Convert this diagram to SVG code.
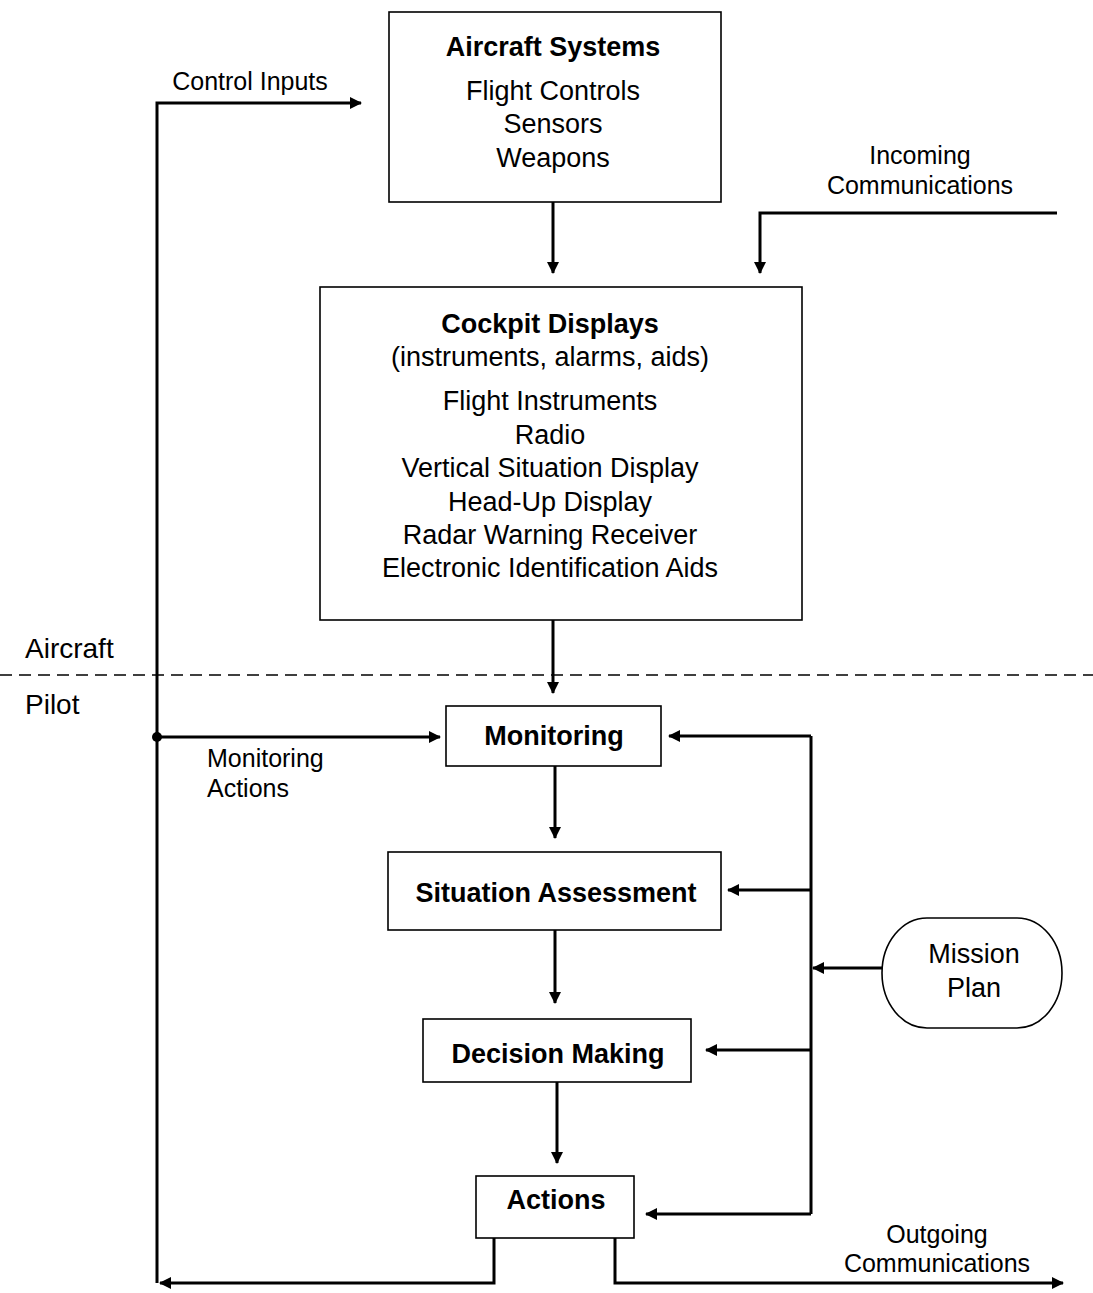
<svg xmlns="http://www.w3.org/2000/svg" width="1093" height="1293" viewBox="0 0 1093 1293">
<defs>
<marker id="ah" viewBox="0 0 12 12" refX="11" refY="6" markerWidth="12" markerHeight="12" markerUnits="userSpaceOnUse" orient="auto">
<path d="M0,0 L12,6 L0,12 Z" fill="#000"/>
</marker>
<style>
text{font-family:"Liberation Sans",Arial,sans-serif;fill:#000;text-anchor:middle}
.t{font-size:27px}
.b{font-size:27px;font-weight:bold}
.s{font-size:25px}
.l{font-size:28px;text-anchor:start}
.box{fill:#fff;stroke:#000;stroke-width:1.6}
.c{fill:none;stroke:#000;stroke-width:3}
.a{marker-end:url(#ah)}
</style>
</defs>
<rect width="1093" height="1293" fill="#fff"/>
<g id="divider">
<line x1="0" y1="675" x2="1093" y2="675" stroke="#000" stroke-width="1.6" stroke-dasharray="12,7"/>
<text class="l" x="25" y="658">Aircraft</text>
<text class="l" x="25" y="714">Pilot</text>
</g>
<g id="connectors">
<path class="c a" d="M157,1283 L157,103 L361,103"/>
<circle cx="157" cy="737" r="5" fill="#000"/>
<path class="c a" d="M157,737 L440,737"/>
<path class="c a" d="M553,202 L553,273"/>
<path class="c a" d="M1057,213 L760,213 L760,273"/>
<path class="c a" d="M553,620 L553,693"/>
<path class="c a" d="M555,766 L555,838"/>
<path class="c a" d="M555,930 L555,1003"/>
<path class="c a" d="M557,1082 L557,1163"/>
<path class="c" d="M811,736 L811,1214"/>
<path class="c a" d="M811,736 L669,736"/>
<path class="c a" d="M811,890 L728,890"/>
<path class="c a" d="M811,1050 L706,1050"/>
<path class="c a" d="M811,1214 L646,1214"/>
<path class="c a" d="M882,968 L813,968"/>
<path class="c a" d="M494,1238 L494,1283 L160,1283"/>
<path class="c a" d="M615,1238 L615,1283 L1063,1283"/>
<text class="s" x="250" y="90">Control Inputs</text>
<text class="s" x="920" y="164">Incoming</text>
<text class="s" x="920" y="194">Communications</text>
<text class="s" x="207" y="767" style="text-anchor:start">Monitoring</text>
<text class="s" x="207" y="797" style="text-anchor:start">Actions</text>
<text class="s" x="937" y="1243">Outgoing</text>
<text class="s" x="937" y="1272">Communications</text>
</g>
<g id="aircraft-systems">
<rect class="box" x="389" y="12" width="332" height="190"/>
<text class="b" x="553" y="56">Aircraft Systems</text>
<text class="t" x="553" y="100">Flight Controls</text>
<text class="t" x="553" y="133">Sensors</text>
<text class="t" x="553" y="167">Weapons</text>
</g>
<g id="cockpit-displays">
<rect class="box" x="320" y="287" width="482" height="333"/>
<text class="b" x="550" y="333">Cockpit Displays</text>
<text class="t" x="550" y="366">(instruments, alarms, aids)</text>
<text class="t" x="550" y="410">Flight Instruments</text>
<text class="t" x="550" y="444">Radio</text>
<text class="t" x="550" y="477">Vertical Situation Display</text>
<text class="t" x="550" y="511">Head-Up Display</text>
<text class="t" x="550" y="544">Radar Warning Receiver</text>
<text class="t" x="550" y="577">Electronic Identification Aids</text>
</g>
<g id="monitoring">
<rect class="box" x="446" y="706" width="215" height="60"/>
<text class="b" x="554" y="745">Monitoring</text>
</g>
<g id="situation-assessment">
<rect class="box" x="388" y="852" width="333" height="78"/>
<text class="b" x="556" y="902">Situation Assessment</text>
</g>
<g id="decision-making">
<rect class="box" x="423" y="1019" width="268" height="63"/>
<text class="b" x="558" y="1063">Decision Making</text>
</g>
<g id="actions">
<rect class="box" x="476" y="1176" width="158" height="62"/>
<text class="b" x="556" y="1209">Actions</text>
</g>
<g id="mission-plan">
<rect class="box" x="882" y="918" width="180" height="110" rx="45" ry="55"/>
<text class="t" x="974" y="963">Mission</text>
<text class="t" x="974" y="997">Plan</text>
</g>
</svg>
